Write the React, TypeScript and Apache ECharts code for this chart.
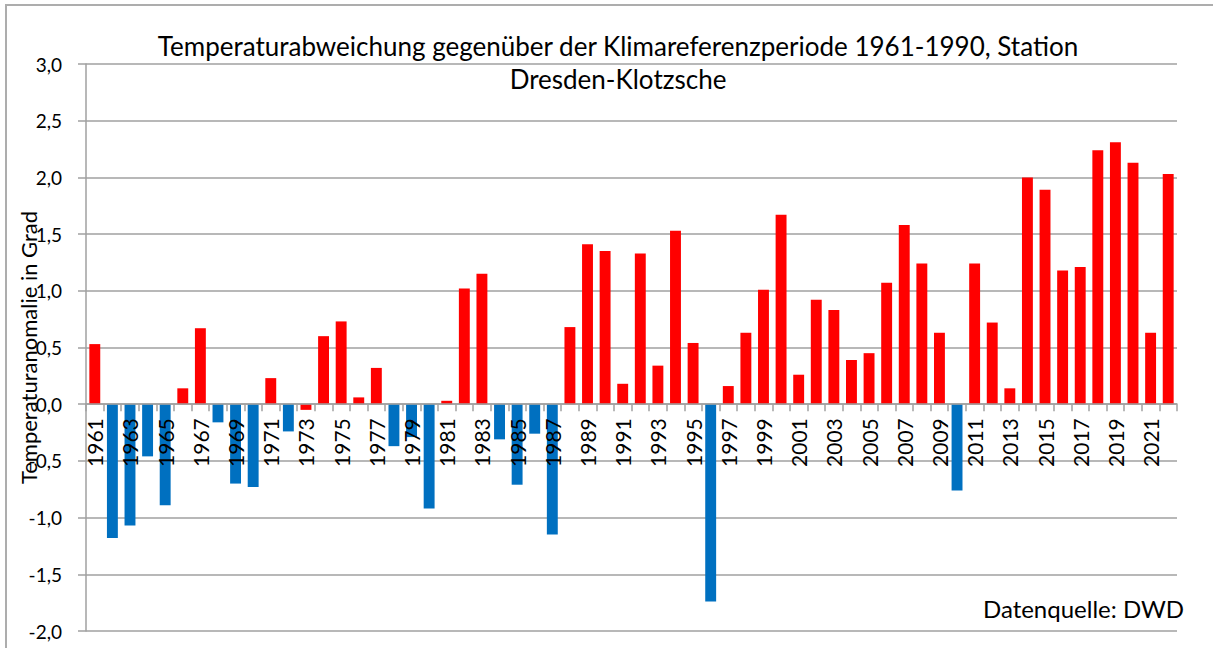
import React, { useEffect, useRef } from "react";
import * as echarts from "echarts";

const years: string[] = [];
for (let y = 1961; y <= 2022; y++) years.push(String(y));

const anomalies: number[] = [
  0.53, -1.18, -1.07, -0.46, -0.89, 0.14, 0.67, -0.16, -0.70, -0.73,
  0.23, -0.24, -0.05, 0.60, 0.73, 0.06, 0.32, -0.37, -0.29, -0.92,
  0.03, 1.02, 1.15, -0.31, -0.71, -0.26, -1.15, 0.68, 1.41, 1.35,
  0.18, 1.33, 0.34, 1.53, 0.54, -1.74, 0.16, 0.63, 1.01, 1.67,
  0.26, 0.92, 0.83, 0.39, 0.45, 1.07, 1.58, 1.24, 0.63, -0.76,
  1.24, 0.72, 0.14, 2.00, 1.89, 1.18, 1.21, 2.24, 2.31, 2.13,
  0.63, 2.03,
];

const yMin = -2;
const yMax = 3;

const titleText =
  "Temperaturabweichung gegenüber der Klimareferenzperiode 1961-1990, Station\nDresden-Klotzsche";
const yAxisName = "Temperaturanomalie in Grad";
const sourceText = "Datenquelle: DWD";

const FONT = "Lato, 'Open Sans', sans-serif";

const GRID_TOP = 64;
const GRID_BOTTOM = 17;
const HEIGHT = 648;

export default function App() {
  const ref = useRef<HTMLDivElement>(null);
  useEffect(() => {
    if (!ref.current) return;
    const chart = echarts.init(ref.current, null, { renderer: "svg" });
    const plotH = HEIGHT - GRID_TOP - GRID_BOTTOM;
    const zeroFromBottom = (plotH * (0 - yMin)) / (yMax - yMin);
    chart.setOption({
      animation: false,
      backgroundColor: "#ffffff",
      textStyle: { fontFamily: FONT },
      title: {
        text: titleText,
        left: 613,
        top: 24,
        textAlign: "center",
        textStyle: {
          fontFamily: FONT,
          fontSize: 26,
          fontWeight: "normal",
          color: "#000000",
          lineHeight: 33,
        },
      },
      grid: {
        left: 86,
        right: 36,
        top: GRID_TOP,
        bottom: GRID_BOTTOM,
        containLabel: false,
        outerBoundsMode: "none",
      },
      xAxis: {
        type: "category",
        data: years,
        z: 5,
        position: "bottom",
        offset: -zeroFromBottom,
        boundaryGap: true,
        axisLine: { onZero: false, lineStyle: { color: "#a0a0a0", width: 1.5 } },
        axisTick: { show: true, interval: 0, length: 7, lineStyle: { color: "#a0a0a0", width: 1.5 } },
        axisLabel: {
          interval: 1,
          rotate: 90,
          margin: 14,
          fontSize: 21,
          color: "#000000",
          fontFamily: FONT,
        },
        splitLine: { show: false },
      },
      yAxis: {
        type: "value",
        min: yMin,
        max: yMax,
        interval: 0.5,
        name: yAxisName,
        nameLocation: "middle",
        nameGap: 47,
        nameMoveOverlap: false,
        nameTextStyle: { fontSize: 22, color: "#000000", fontFamily: FONT },
        axisLine: { show: true, lineStyle: { color: "#a0a0a0", width: 1.5 } },
        axisTick: { show: true, length: 8, lineStyle: { color: "#a0a0a0", width: 1.5 } },
        axisLabel: {
          margin: 24,
          fontSize: 19,
          color: "#000000",
          fontFamily: FONT,
          formatter: (v: number) => v.toFixed(1).replace(".", ","),
        },
        splitLine: { show: true, lineStyle: { color: "#a0a0a0", width: 1.5 } },
      },
      series: [
        {
          type: "bar",
          data: anomalies,
          barWidth: "62%",
          itemStyle: {
            color: (p: any) => (p.value > -0.1 ? "#ff0000" : "#0070c0"),
          },
        },
      ],
      graphic: [
        {
          type: "rect",
          shape: { x: 6, y: 5, width: 1240, height: 700 },
          style: { fill: "none", stroke: "#adadad", lineWidth: 2 },
          silent: true,
          z: 100,
        },
        {
          type: "text",
          x: 1184,
          y: 620,
          style: {
            text: sourceText,
            fontSize: 24,
            fontFamily: FONT,
            fill: "#000000",
            textAlign: "right",
            textVerticalAlign: "bottom",
          },
          z: 100,
        },
      ],
    });
    return () => chart.dispose();
  }, []);
  return (
    <div
      ref={ref}
      style={{ position: "fixed", left: 0, top: 0, width: 1213, height: 648 }}
    />
  );
}
